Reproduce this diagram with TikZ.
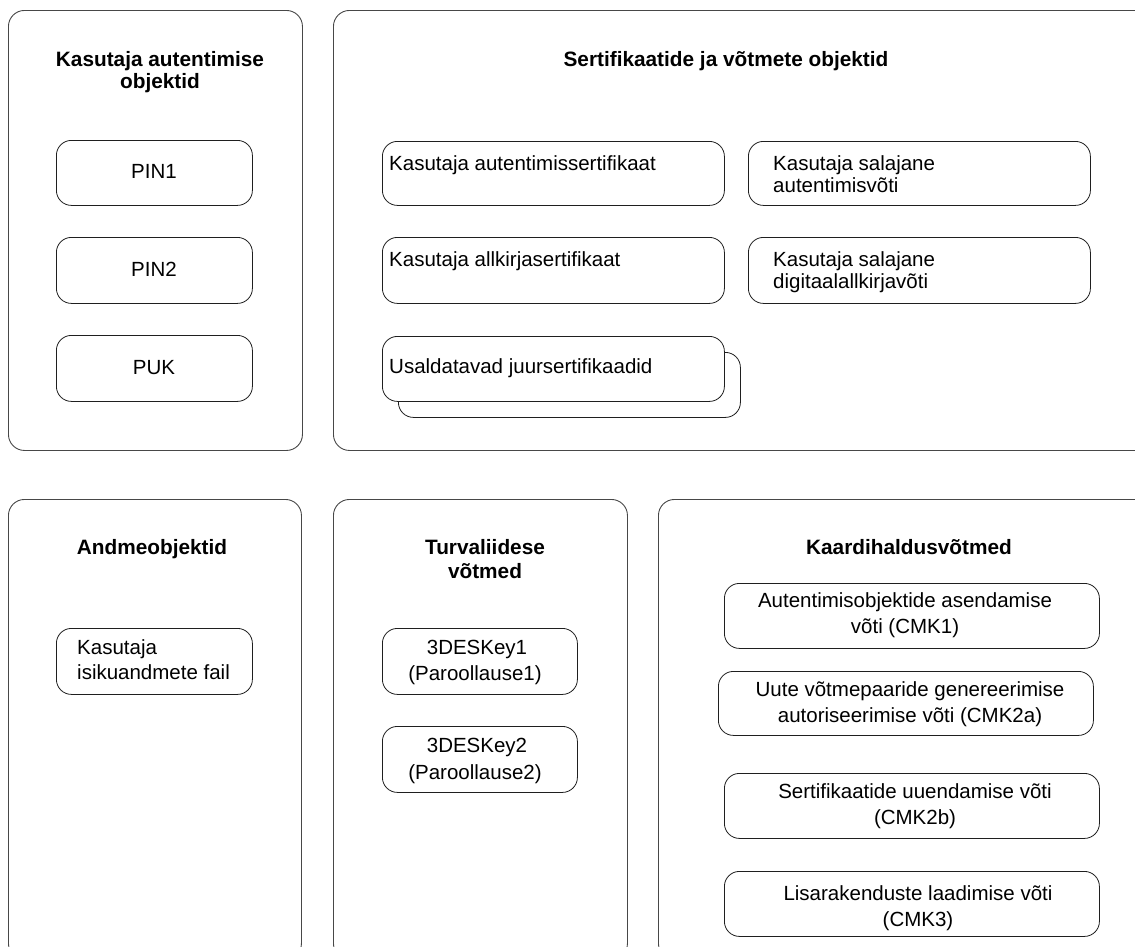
\documentclass[tikz,border=0pt]{standalone}
\usepackage{fontspec}
\setmainfont{Liberation Sans}
\begin{document}
\begin{tikzpicture}[x=1pt,y=-1pt,
  frame/.style={draw=black!72, line width=0.9pt, rounded corners=16pt, anchor=north west, inner sep=0pt},
  item/.style={draw=black!88, line width=0.8pt, rounded corners=15pt, fill=white, anchor=north west, inner sep=0pt},
  lbl/.style={inner sep=0pt, font=\fontsize{20.5}{24}\selectfont},
  ttl/.style={inner sep=0pt, font=\fontsize{20.8}{24}\selectfont\bfseries}]
\useasboundingbox (0,0) rectangle (1135,946);
\clip (0,0) rectangle (1135,946);

% ---------- upper left group
\node[frame, minimum width=294pt, minimum height=440pt] (grpA) at (8,10) {};
\node[ttl, anchor=base] (tA1) at (160,66) {Kasutaja autentimise};
\node[ttl, anchor=base] (tA2) at (160,88) {objektid};
\node[item, minimum width=196pt, minimum height=65pt] (pin1) at (56,140) {};
\node[lbl, anchor=base] (pin1t) at (154,178) {PIN1};
\node[item, minimum width=196pt, minimum height=66pt] (pin2) at (56,237) {};
\node[lbl, anchor=base] (pin2t) at (154,276) {PIN2};
\node[item, minimum width=196pt, minimum height=66pt] (puk) at (56,335) {};
\node[lbl, anchor=base] (pukt) at (154,374) {PUK};

% ---------- upper right group
\node[frame, minimum width=830pt, minimum height=440pt] (grpB) at (333,10) {};
\node[ttl, anchor=base] (tB) at (726,66) {Sertifikaatide ja võtmete objektid};
\node[item, minimum width=342pt, minimum height=64pt] (cert1) at (382,141) {};
\node[lbl, anchor=base west] (cert1t) at (389,170) {Kasutaja autentimissertifikaat};
\node[item, minimum width=342pt, minimum height=66pt] (cert2) at (382,237) {};
\node[lbl, anchor=base west] (cert2t) at (389,266) {Kasutaja allkirjasertifikaat};
\node[item, minimum width=342pt, minimum height=65pt] (rootback) at (398,352) {};
\node[item, minimum width=342pt, minimum height=65pt] (root) at (382,336) {};
\node[lbl, anchor=base west] (roott) at (389,373) {Usaldatavad juursertifikaadid};
\node[item, minimum width=342pt, minimum height=64pt] (key1) at (748,141) {};
\node[lbl, anchor=base west] (key1a) at (773,170) {Kasutaja salajane};
\node[lbl, anchor=base west] (key1b) at (773,192) {autentimisvõti};
\node[item, minimum width=342pt, minimum height=66pt] (key2) at (748,237) {};
\node[lbl, anchor=base west] (key2a) at (773,266) {Kasutaja salajane};
\node[lbl, anchor=base west] (key2b) at (773,288) {digitaalallkirjavõti};

% ---------- lower left group
\node[frame, minimum width=293pt, minimum height=460pt] (grpC) at (8,499) {};
\node[ttl, anchor=base] (tC) at (152,554) {Andmeobjektid};
\node[item, minimum width=196pt, minimum height=66pt] (file) at (56,628) {};
\node[lbl, anchor=base west] (filea) at (77,654) {Kasutaja};
\node[lbl, anchor=base west] (fileb) at (77,679) {isikuandmete fail};

% ---------- lower middle group
\node[frame, minimum width=294pt, minimum height=460pt] (grpD) at (333,499) {};
\node[ttl, anchor=base] (tD1) at (485,554) {Turvaliidese};
\node[ttl, anchor=base] (tD2) at (485,578) {võtmed};
\node[item, minimum width=195pt, minimum height=66pt] (des1) at (382,628) {};
\node[lbl, anchor=base] (des1a) at (477,654) {3DESKey1};
\node[lbl, anchor=base] (des1b) at (475,680) {(Paroollause1)};
\node[item, minimum width=195pt, minimum height=66pt] (des2) at (382,726) {};
\node[lbl, anchor=base] (des2a) at (477,752) {3DESKey2};
\node[lbl, anchor=base] (des2b) at (475,779) {(Paroollause2)};

% ---------- lower right group
\node[frame, minimum width=500pt, minimum height=460pt] (grpE) at (658,499) {};
\node[ttl, anchor=base] (tE) at (909,554) {Kaardihaldusvõtmed};
\node[item, minimum width=375pt, minimum height=65pt] (cmk1) at (724,583) {};
\node[lbl, anchor=base] (cmk1a) at (905,607) {Autentimisobjektide asendamise};
\node[lbl, anchor=base] (cmk1b) at (905,633) {võti (CMK1)};
\node[item, minimum width=375pt, minimum height=64pt] (cmk2a) at (718,671) {};
\node[lbl, anchor=base] (cmk2aa) at (910,696) {Uute võtmepaaride genereerimise};
\node[lbl, anchor=base] (cmk2ab) at (910,722) {autoriseerimise võti (CMK2a)};
\node[item, minimum width=375pt, minimum height=65pt] (cmk2b) at (724,773) {};
\node[lbl, anchor=base] (cmk2ba) at (915,798) {Sertifikaatide uuendamise võti};
\node[lbl, anchor=base] (cmk2bb) at (915,824) {(CMK2b)};
\node[item, minimum width=375pt, minimum height=65pt] (cmk3) at (724,871) {};
\node[lbl, anchor=base] (cmk3a) at (918,900) {Lisarakenduste laadimise võti};
\node[lbl, anchor=base] (cmk3b) at (918,926) {(CMK3)};
\end{tikzpicture}
\end{document}
